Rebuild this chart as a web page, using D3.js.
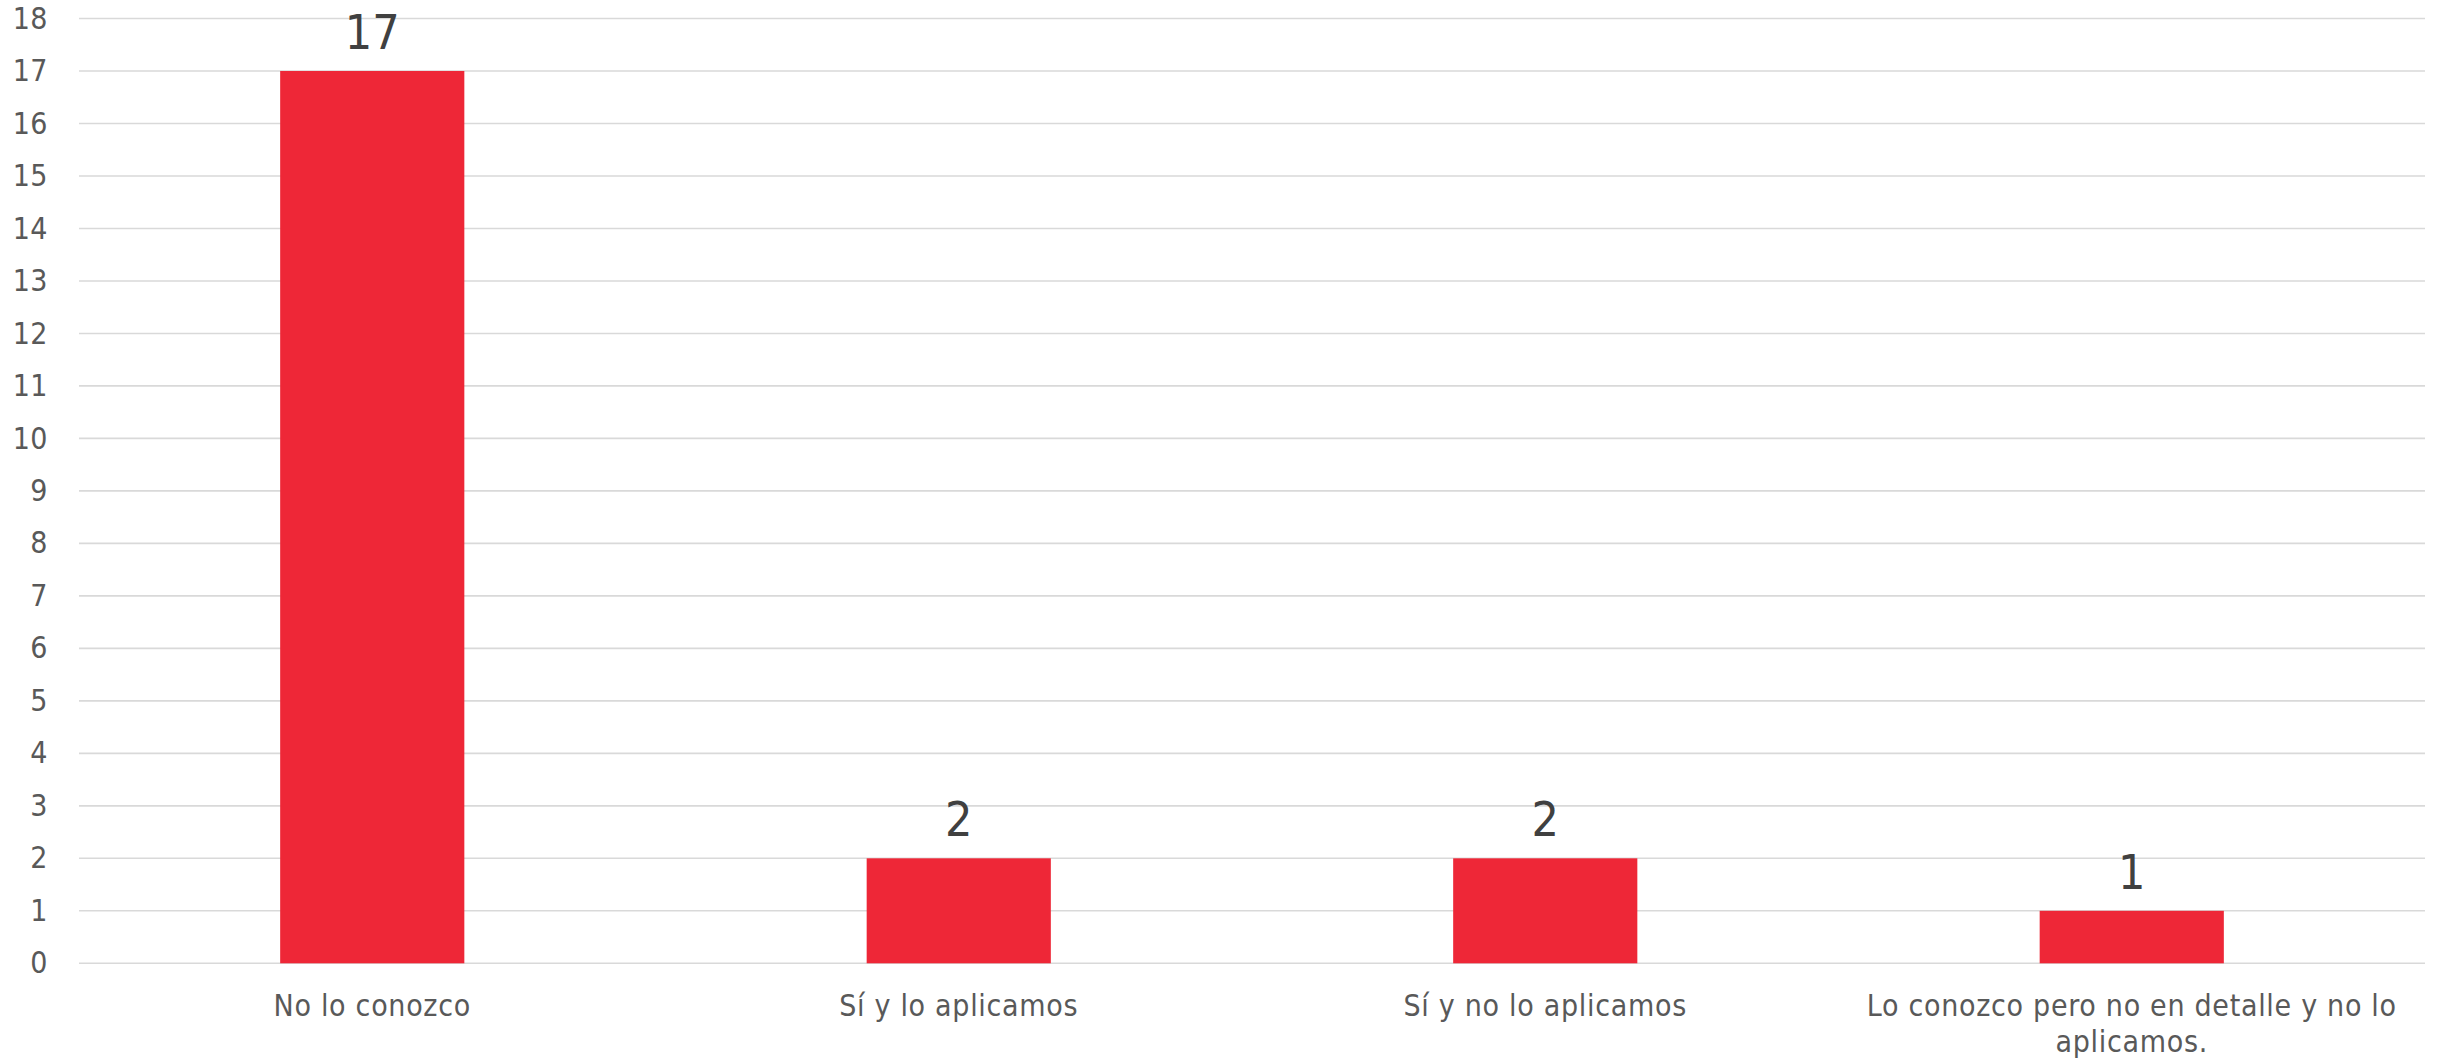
<!DOCTYPE html>
<html>
<head>
<meta charset="utf-8">
<script src="https://cdn.jsdelivr.net/npm/d3@7"></script>
<style>
  html, body { margin: 0; padding: 0; background: #ffffff; }
  svg { display: block; }
  text { font-family: "DejaVu Sans Condensed", "DejaVu Sans", sans-serif; }
</style>
</head>
<body>
<svg id="chart" width="2447" height="1061"></svg>
<script>
// Survey answers and their counts
const categories = [
  "No lo conozco",
  "Sí y lo aplicamos",
  "Sí y no lo aplicamos",
  "Lo conozco pero no en detalle y no lo aplicamos."
];
const counts = [17, 2, 2, 1];
const yTicks = d3.range(0, 19);

const width = 2447, height = 1061;
const margin = { top: 18.5, right: 22, bottom: 97.7, left: 79 };

const svg = d3.select("#chart");

const x = d3.scaleBand()
  .domain(categories)
  .range([margin.left, width - margin.right])
  .paddingInner(0.686)
  .paddingOuter(0.343);

const y = d3.scaleLinear()
  .domain([0, 18])
  .range([height - margin.bottom, margin.top]);

// horizontal gridlines
svg.append("g")
  .selectAll("line")
  .data(yTicks)
  .join("line")
  .attr("x1", margin.left)
  .attr("x2", width - margin.right)
  .attr("y1", d => y(d))
  .attr("y2", d => y(d))
  .attr("stroke", "#d9d9d9")
  .attr("stroke-width", 1.6);

// y axis labels
const yAxis = d3.axisLeft(y).tickValues(yTicks).tickSize(0).tickPadding(31);
svg.append("g")
  .attr("transform", `translate(${margin.left},0)`)
  .call(yAxis)
  .call(g => g.select(".domain").remove())
  .call(g => g.selectAll("text")
    .attr("font-size", 30)
    .attr("letter-spacing", 0.5)
    .attr("fill", "#595959")
    .attr("font-family", '"DejaVu Sans Condensed", "DejaVu Sans", sans-serif'));

// bars
svg.append("g")
  .selectAll("rect")
  .data(counts)
  .join("rect")
  .attr("x", (d, i) => x(categories[i]))
  .attr("width", x.bandwidth())
  .attr("y", d => y(d))
  .attr("height", d => y(0) - y(d))
  .attr("fill", "#ee2737");

// value labels above bars
svg.append("g")
  .selectAll("text")
  .data(counts)
  .join("text")
  .attr("x", (d, i) => x(categories[i]) + x.bandwidth() / 2)
  .attr("y", d => y(d) - 22)
  .attr("text-anchor", "middle")
  .attr("font-size", 48)
  .attr("fill", "#404040")
  .text(d => d);

// category labels, wrapped to the band step
const xAxis = d3.axisBottom(x).tickSize(0).tickPadding(0);
const xg = svg.append("g")
  .attr("transform", `translate(0,${y(0)})`)
  .call(xAxis)
  .call(g => g.select(".domain").remove());

xg.selectAll("text")
  .attr("font-size", 30)
  .attr("letter-spacing", 0.7)
  .attr("fill", "#595959")
  .attr("font-family", '"DejaVu Sans Condensed", "DejaVu Sans", sans-serif')
  .attr("dy", null)
  .attr("y", 53)
  .each(function(label) {
    const t = d3.select(this);
    const words = label.split(" ");
    const maxW = x.step() * 0.98;
    t.text(null);
    let line = [];
    let lineNo = 0;
    let tspan = t.append("tspan").attr("x", 0).attr("y", 53);
    for (const w of words) {
      line.push(w);
      tspan.text(line.join(" "));
      if (tspan.node().getComputedTextLength() > maxW && line.length > 1) {
        line.pop();
        tspan.text(line.join(" "));
        line = [w];
        lineNo += 1;
        tspan = t.append("tspan").attr("x", 0).attr("y", 53 + lineNo * 36).text(w);
      }
    }
  });
</script>
</body>
</html>
